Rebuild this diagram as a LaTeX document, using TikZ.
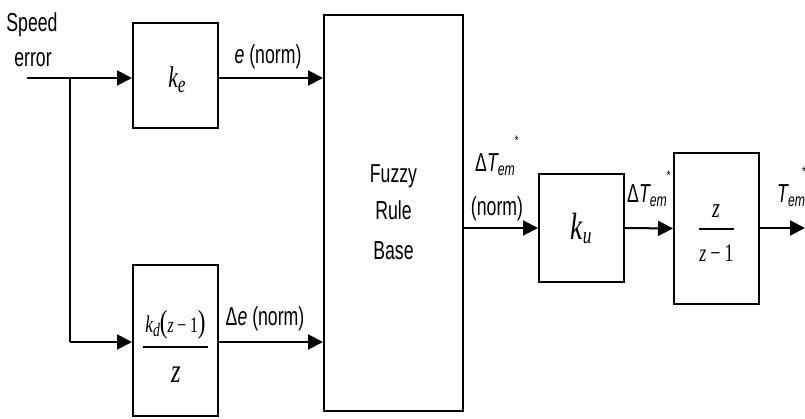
\documentclass[tikz,border=0pt]{standalone}
\usepackage{fontspec}
\usetikzlibrary{arrows.meta}
\newfontfamily\lab{Liberation Sans}[FakeStretch=0.68]
\newfontfamily\mi{Liberation Serif}[FakeStretch=0.72]
\newcommand{\fs}[1]{\fontsize{#1}{#1}\selectfont}
\tikzset{
  blk/.style={draw, line width=2pt, inner sep=0pt, fill=white},
  wire/.style={line width=2pt},
  arr/.style={line width=2pt, -{Triangle[length=15pt,width=15pt]}},
  lbl/.style={inner sep=0pt, font=\lab\fs{26}},
  mth/.style={inner sep=0pt},
}
\newcommand{\dT}{Δ{\itshape T}\raisebox{-4pt}{\fs{18}\itshape em}}
\begin{document}
\begin{tikzpicture}[x=1pt,y=-1pt]
\useasboundingbox (0,0) rectangle (805,419);
% blocks
\node[blk, minimum width=85pt, minimum height=105pt] (ke) at (175.5,75.5) {};
\node[blk, minimum width=85pt, minimum height=151pt] (kd) at (175.5,340.5) {};
\node[blk, minimum width=139pt, minimum height=396pt] (fz) at (393.5,213) {};
\node[blk, minimum width=85pt, minimum height=108pt] (ku) at (581.5,228) {};
\node[blk, minimum width=85pt, minimum height=151pt] (zf) at (716.5,228.5) {};
% coordinates
\coordinate (in) at (27,78);
\coordinate (br) at (70,78);
\coordinate (bk) at (70,342);
\coordinate (out) at (805,228);
% connectors
\draw[arr] (in) -- (in -| ke.west);
\draw[wire] (br) -- (bk);
\draw[arr] (bk) -- (bk -| kd.west);
\draw[arr] (in -| ke.east) -- (in -| fz.west);
\draw[arr] (bk -| kd.east) -- (bk -| fz.west);
\draw[arr] (out -| fz.east) -- (ku.west);
\draw[arr] (ku.east) -- (zf.west);
\draw[arr] (out -| zf.east) -- (out);
% block contents
\node[mth, anchor=base] (tke) at (177,88) {\mi\fs{30}\itshape k\raisebox{-5pt}{\fs{24}e}};
\node[mth, anchor=base] (tku) at (581,240) {\mi\fs{38}\itshape k\raisebox{-4pt}{\fs{24}u}};
\node[lbl, anchor=base, align=center] (tfz1) at (393.5,183) {Fuzzy};
\node[lbl, anchor=base, align=center] (tfz2) at (393.5,220) {Rule};
\node[lbl, anchor=base, align=center] (tfz3) at (393.5,260) {Base};
% kd fraction
\node[mth, anchor=base] (kdn) at (175.5,332) {\mi{\fs{24}\itshape k\raisebox{-4pt}{\fs{19}d}}{\fs{32}(}{\fs{22}\itshape z}{\fs{22}\,−\,1}{\fs{32})}};
\draw[wire, line width=1.6pt] (143,347) -- (208,347);
\node[mth, anchor=base] (kdd) at (176,382) {\mi\fs{34}\itshape z};
% z/(z-1)
\node[mth, anchor=base] (zfn) at (716,218) {\mi\fs{28}\itshape z};
\draw[wire, line width=1.6pt] (699,229) -- (734,229);
\node[mth, anchor=base] (zfd) at (716.5,262) {\mi\fs{25}{\itshape z}\,−\,1};
% labels
\node[lbl, anchor=base] (sp1) at (32,32) {Speed};
\node[lbl, anchor=base] (sp2) at (33,67) {error};
\node[lbl, anchor=base] (le) at (268,64) {{\itshape e} (norm)};
\node[lbl, anchor=base] (lde) at (265,325) {Δ{\itshape e} (norm)};
\node[lbl, anchor=base west] (lt1) at (475,172) {\dT\raisebox{26pt}{\fs{14}*}};
\node[lbl, anchor=base] (lt1b) at (497,216) {(norm)};
\node[lbl, anchor=base west] (lt2) at (627,203) {\dT\raisebox{22pt}{\fs{14}*}};
\node[lbl, anchor=base west] (lt3) at (777,203) {{\itshape T}\raisebox{-4pt}{\fs{18}\itshape em}\kern-3pt\raisebox{26pt}{\fs{14}*}};
\end{tikzpicture}
\end{document}
